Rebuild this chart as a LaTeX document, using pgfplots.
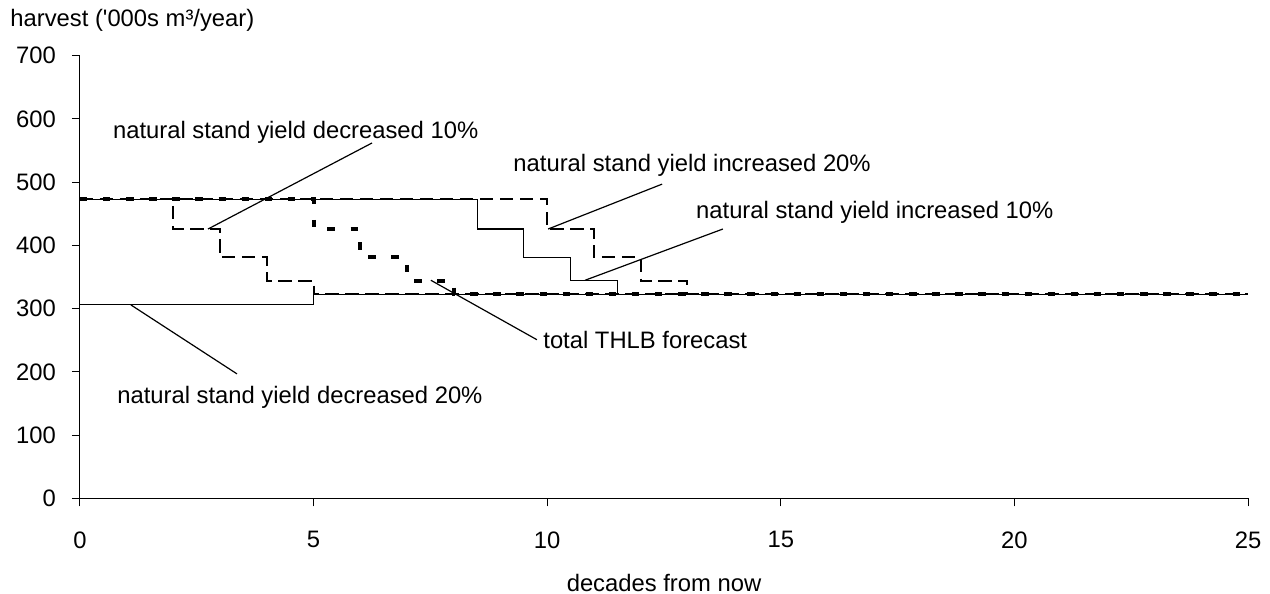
\documentclass[border=0pt]{standalone}
\usepackage{pgfplots}
\pgfplotsset{compat=1.18}
\usepackage{fontspec}
\setmainfont{Liberation Sans}[Ligatures=TeXOff]

\begin{document}
\begin{tikzpicture}[font=\fontsize{11.9}{14.3}\selectfont]
\begin{axis}[
  scale only axis, width=584pt, height=221.4pt,
  at={(0,0)}, anchor=south west,
  xmin=0, xmax=25, ymin=0, ymax=700,
  axis lines=left, axis line style={-, line width=0.5pt},
  tick align=outside, major tick length=4pt,
  tick style={black, line width=0.5pt},
  xtick={0,5,...,25}, ytick={0,100,...,700},
  /pgf/number format/assume math mode=true,
  xticklabel style={yshift=-9pt},
  yticklabel style={xshift=-4.5pt},
  xlabel={decades from now},
  xlabel style={at={(axis description cs:0.5,0)}, anchor=center, inner sep=0pt, yshift=-42.25pt},
  clip=false,
]
% natural stand yield decreased 20%
\addplot[const plot, black, line width=0.6pt] coordinates {(0,307) (5,323) (25,323)};
% natural stand yield increased 10%
\addplot[const plot, black, line width=0.6pt] coordinates {(0,473) (8.5,426) (9.5,381) (10.5,344) (11.5,323) (25,323)};
% natural stand yield decreased 10%
\addplot[const plot, black, line width=1pt, dash pattern=on 6.7pt off 3.3pt] coordinates {(0,473) (2,426) (3,381) (4,344) (5,323) (25,323)};
% natural stand yield increased 20%
\addplot[const plot, black, line width=1pt, dash pattern=on 6.7pt off 3.3pt] coordinates {(0,473) (10,426) (11,381) (12,344) (13,323) (25,323)};
% total THLB forecast
\addplot[const plot, black, line width=2pt, dash pattern=on 3.7pt off 7.85pt] coordinates {(0,473) (5,426) (6,381) (7,344) (8,323) (25,323)};

% callouts
\draw[line width=0.6pt] (axis cs:2.74,426) -- (axis cs:6.25,562);
\node[anchor=west, inner sep=0pt] at (axis cs:0.70,579) {natural stand yield decreased 10\%};
\draw[line width=0.6pt] (axis cs:10.02,426) -- (axis cs:12.46,497);
\node[anchor=west, inner sep=0pt] at (axis cs:9.27,527) {natural stand yield increased 20\%};
\draw[line width=0.6pt] (axis cs:10.81,345) -- (axis cs:13.76,426);
\node[anchor=west, inner sep=0pt] at (axis cs:13.18,453) {natural stand yield increased 10\%};
\draw[line width=0.6pt] (axis cs:7.51,345) -- (axis cs:9.78,251);
\node[anchor=west, inner sep=0pt] at (axis cs:9.91,250) {total THLB forecast};
\draw[line width=0.6pt] (axis cs:1.09,306) -- (axis cs:3.36,197);
\node[anchor=west, inner sep=0pt] at (axis cs:0.79,160) {natural stand yield decreased 20\%};
\end{axis}
\node[anchor=base west, inner sep=0pt] at (-35pt,236.1pt) {harvest ('000s m³/year)};
\path (-40pt,-47.75pt) rectangle (595pt,249.25pt);
\end{tikzpicture}
\end{document}
